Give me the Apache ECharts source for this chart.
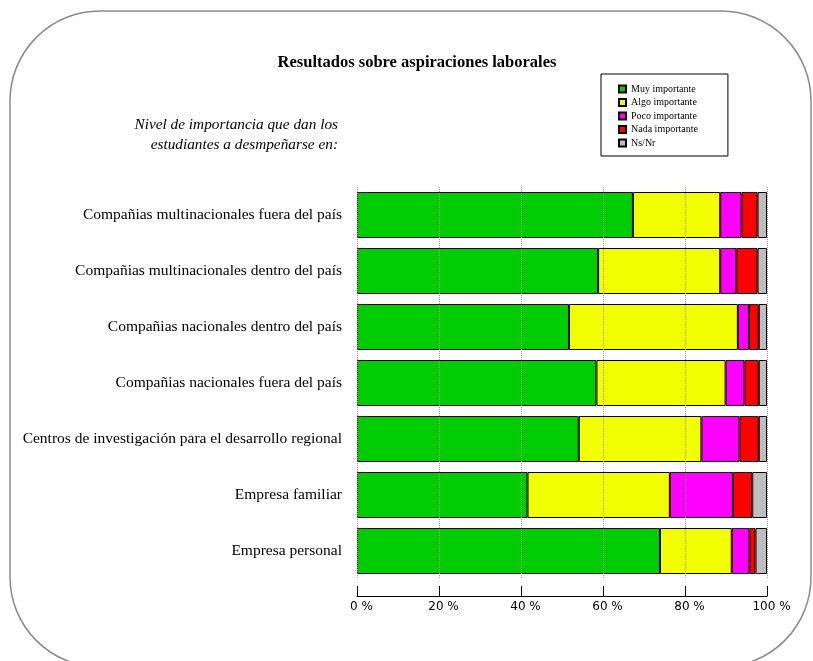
<!DOCTYPE html>
<html>
<head>
<meta charset="utf-8">
<script src="https://cdn.jsdelivr.net/npm/echarts@6/dist/echarts.min.js"></script>
<style>html,body{margin:0;padding:0;background:#fff;}#c{width:813px;height:661px;}</style>
</head>
<body>
<div id="c"></div>
<script>
var categories = [
  'Compañias multinacionales fuera del país',
  'Compañias multinacionales dentro del país',
  'Compañias nacionales dentro del país',
  'Compañias nacionales fuera del país',
  'Centros de investigación para el desarrollo regional',
  'Empresa familiar',
  'Empresa personal'
];
var seriesNames = ['Muy importante', 'Algo importante', 'Poco importante', 'Nada importante', 'Ns/Nr'];
var muy  = [67.3, 58.8, 51.7, 58.4, 54.1, 41.6, 73.9];
var algo = [21.3, 29.8, 41.2, 31.5, 29.9, 34.7, 17.5];
var poco = [5.2, 3.9, 2.7, 4.6, 9.3, 15.4, 4.3];
var nada = [3.9, 5.2, 2.4, 3.5, 4.7, 4.7, 1.5];
var nsnr = [2.3, 2.3, 2.0, 2.0, 2.0, 3.6, 2.8];
var xTicks = [0, 20, 40, 60, 80, 100];

var colors = ['#00cc00', '#f2ff00', '#ff00ff', '#ff0000', '#bebebe'];
var values = [muy, algo, poco, nada, nsnr];
var serif = '"Liberation Serif", "DejaVu Serif", serif';

var chart = echarts.init(document.getElementById('c'));
chart.setOption({
  animation: false,
  backgroundColor: '#fff',
  title: {
    text: 'Resultados sobre aspiraciones laborales',
    left: 412, top: 49, textAlign: 'center',
    textStyle: {fontFamily: serif, fontSize: 16.5, fontWeight: 'bold', color: '#000'}
  },
  legend: {
    orient: 'vertical',
    left: 601, top: 74,
    padding: [9, 30, 7, 17],
    borderColor: '#000', borderWidth: 1,
    itemWidth: 7, itemHeight: 7, itemGap: 1.5,
    icon: 'rect',
    textStyle: {fontFamily: serif, fontSize: 10, color: '#000', lineHeight: 12},
    data: seriesNames
  },
  graphic: [
    {type: 'rect', silent: true, z: -1,
     shape: {x: 10, y: 11, width: 801, height: 656, r: 90},
     style: {fill: 'none', stroke: '#8a8a8a', lineWidth: 1.5}},
    {type: 'text', silent: true,
     style: {x: 338, y: 125, text: 'Nivel de importancia que dan los', textAlign: 'right', textVerticalAlign: 'middle',
       font: 'italic 15.3px "Liberation Serif"', fill: '#000'}},
    {type: 'text', silent: true,
     style: {x: 338, y: 145, text: 'estudiantes a desmpeñarse en:', textAlign: 'right', textVerticalAlign: 'middle',
       font: 'italic 15.3px "Liberation Serif"', fill: '#000'}}
  ],
  grid: {left: 357, right: 46, top: 187, bottom: 82, containLabel: false},
  xAxis: {
    type: 'value', min: 0, max: 100, interval: 20,
    offset: 17, z: 10,
    axisLine: {show: true, lineStyle: {color: '#000', width: 1}},
    axisTick: {show: true, inside: true, length: 10, lineStyle: {color: '#000'}},
    axisLabel: {formatter: function (v) { return xTicks.indexOf(v) >= 0 ? v + ' %' : ''; },
      fontFamily: '"DejaVu Sans", sans-serif', fontSize: 12, color: '#000', margin: 5, padding: [0, 0, 0, 9]},
    splitLine: {show: true, lineStyle: {color: '#999', type: 'dotted', width: 1}}
  },
  yAxis: {
    type: 'category', data: categories, inverse: true,
    axisLine: {show: false}, axisTick: {show: false},
    axisLabel: {fontFamily: serif, fontSize: 15.5, color: '#000', margin: 15}
  },
  series: seriesNames.map(function (n, i) {
    return {
      name: n, type: 'bar', stack: 'total', barWidth: 46,
      data: values[i],
      itemStyle: {color: colors[i], borderColor: '#000', borderWidth: 1},
      emphasis: {disabled: true}
    };
  })
});
</script>
</body>
</html>
